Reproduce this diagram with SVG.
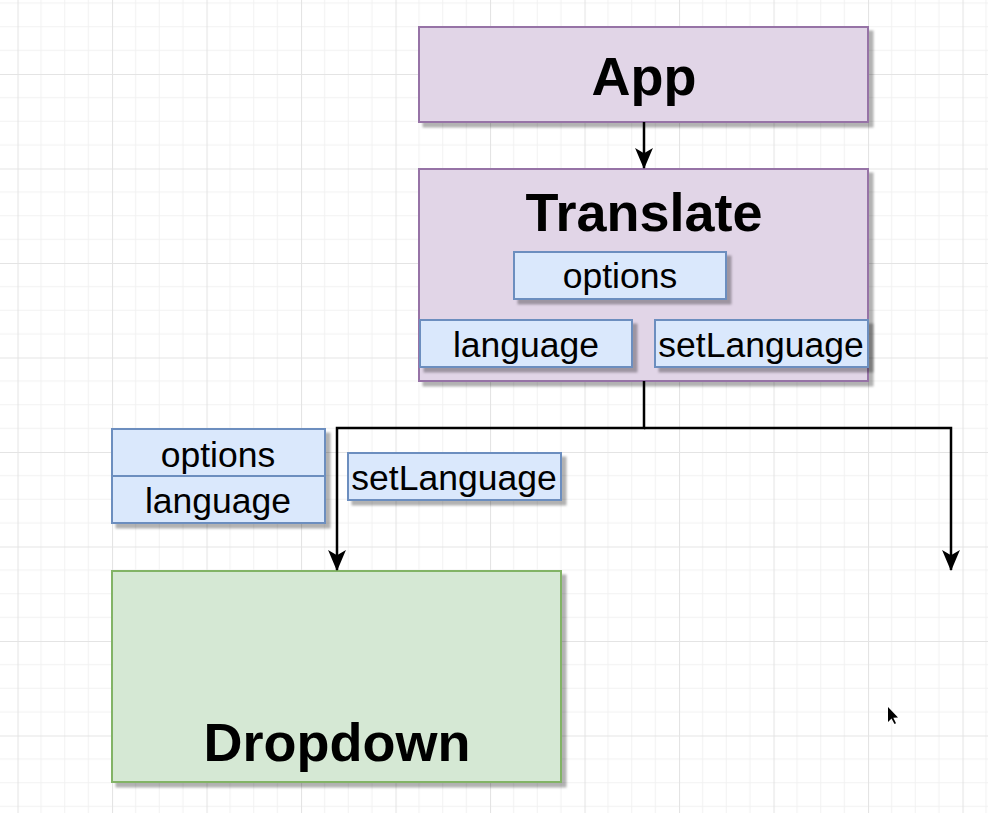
<svg xmlns="http://www.w3.org/2000/svg" width="988" height="813" viewBox="0 0 988 813">
<defs>
<pattern id="grid" x="17.5" y="-20.5" width="94.5" height="94.5" patternUnits="userSpaceOnUse">
<path d="M23.625 0V94.5M47.25 0V94.5M70.875 0V94.5M0 23.625H94.5M0 47.25H94.5M0 70.875H94.5" stroke="#f1f1f1" stroke-width="1" fill="none"/>
<path d="M0.5 0V94.5M0 0.5H94.5" stroke="#e4e4e4" stroke-width="1.2" fill="none"/>
</pattern>
<filter id="sh" x="-10%" y="-10%" width="130%" height="130%">
<feDropShadow dx="4.5" dy="4.5" stdDeviation="1.2" flood-color="#000" flood-opacity="0.3"/>
</filter>
<marker id="arr" viewBox="0 0 20 20" markerWidth="21" markerHeight="21" refX="19" refY="10" orient="auto" markerUnits="userSpaceOnUse">
<path d="M0,1.5 L20,10 L0,18.5 L5,10 z" fill="#000"/>
</marker>
<style>
.purple{fill:#e1d5e7;stroke:#9673a6;stroke-width:2}
.blue{fill:#dae8fc;stroke:#6c8ebf;stroke-width:2}
.green{fill:#d5e8d4;stroke:#82b366;stroke-width:2}
.title{font-family:"Liberation Sans",Arial,sans-serif;font-weight:bold;font-size:54px;fill:#000;text-anchor:middle}
.lbl{font-family:"Liberation Sans",Arial,sans-serif;font-size:35.5px;fill:#000;text-anchor:middle}
.conn{fill:none;stroke:#000;stroke-width:2.5}
</style>
</defs>
<rect width="988" height="813" fill="#fff"/>
<rect width="988" height="813" fill="url(#grid)"/>

<g id="app">
<rect class="purple" x="419" y="27" width="449" height="95" filter="url(#sh)"/>
<text class="title" x="644" y="95">App</text>
</g>

<g id="translate">
<rect class="purple" x="419" y="169" width="449" height="212" filter="url(#sh)"/>
<text class="title" x="644" y="231">Translate</text>
</g>
<g id="translate-options">
<rect class="blue" x="514" y="252" width="212" height="47" filter="url(#sh)"/>
<text class="lbl" x="620" y="288">options</text>
</g>
<g id="translate-language">
<rect class="blue" x="420" y="320" width="212" height="47" filter="url(#sh)"/>
<text class="lbl" x="526" y="357">language</text>
</g>
<g id="translate-setLanguage">
<rect class="blue" x="655" y="320" width="213" height="47" filter="url(#sh)"/>
<text class="lbl" x="761" y="357">setLanguage</text>
</g>

<g id="props-options-language">
<rect class="blue" x="112" y="429" width="213" height="94" filter="url(#sh)"/>
<line x1="112" y1="476" x2="325" y2="476" stroke="#6c8ebf" stroke-width="2"/>
<text class="lbl" x="218" y="467">options</text>
<text class="lbl" x="218" y="513">language</text>
</g>
<g id="props-setLanguage">
<rect class="blue" x="348" y="453" width="213" height="47" filter="url(#sh)"/>
<text class="lbl" x="454" y="490">setLanguage</text>
</g>

<g id="dropdown">
<rect class="green" x="112" y="571" width="449" height="211" filter="url(#sh)"/>
<text class="title" x="337" y="761">Dropdown</text>
</g>

<g id="connectors">
<path class="conn" d="M644 122V168" marker-end="url(#arr)"/>
<path class="conn" d="M644 381V428H337V570" marker-end="url(#arr)"/>
<path class="conn" d="M644 428H951V570" marker-end="url(#arr)"/>
</g>

<g id="cursor">
<path d="M888 707L888 722L891.5 718.5L894.5 724L896 723.2L893.3 717.8L898 717.5Z" fill="#000"/>
</g>
</svg>
